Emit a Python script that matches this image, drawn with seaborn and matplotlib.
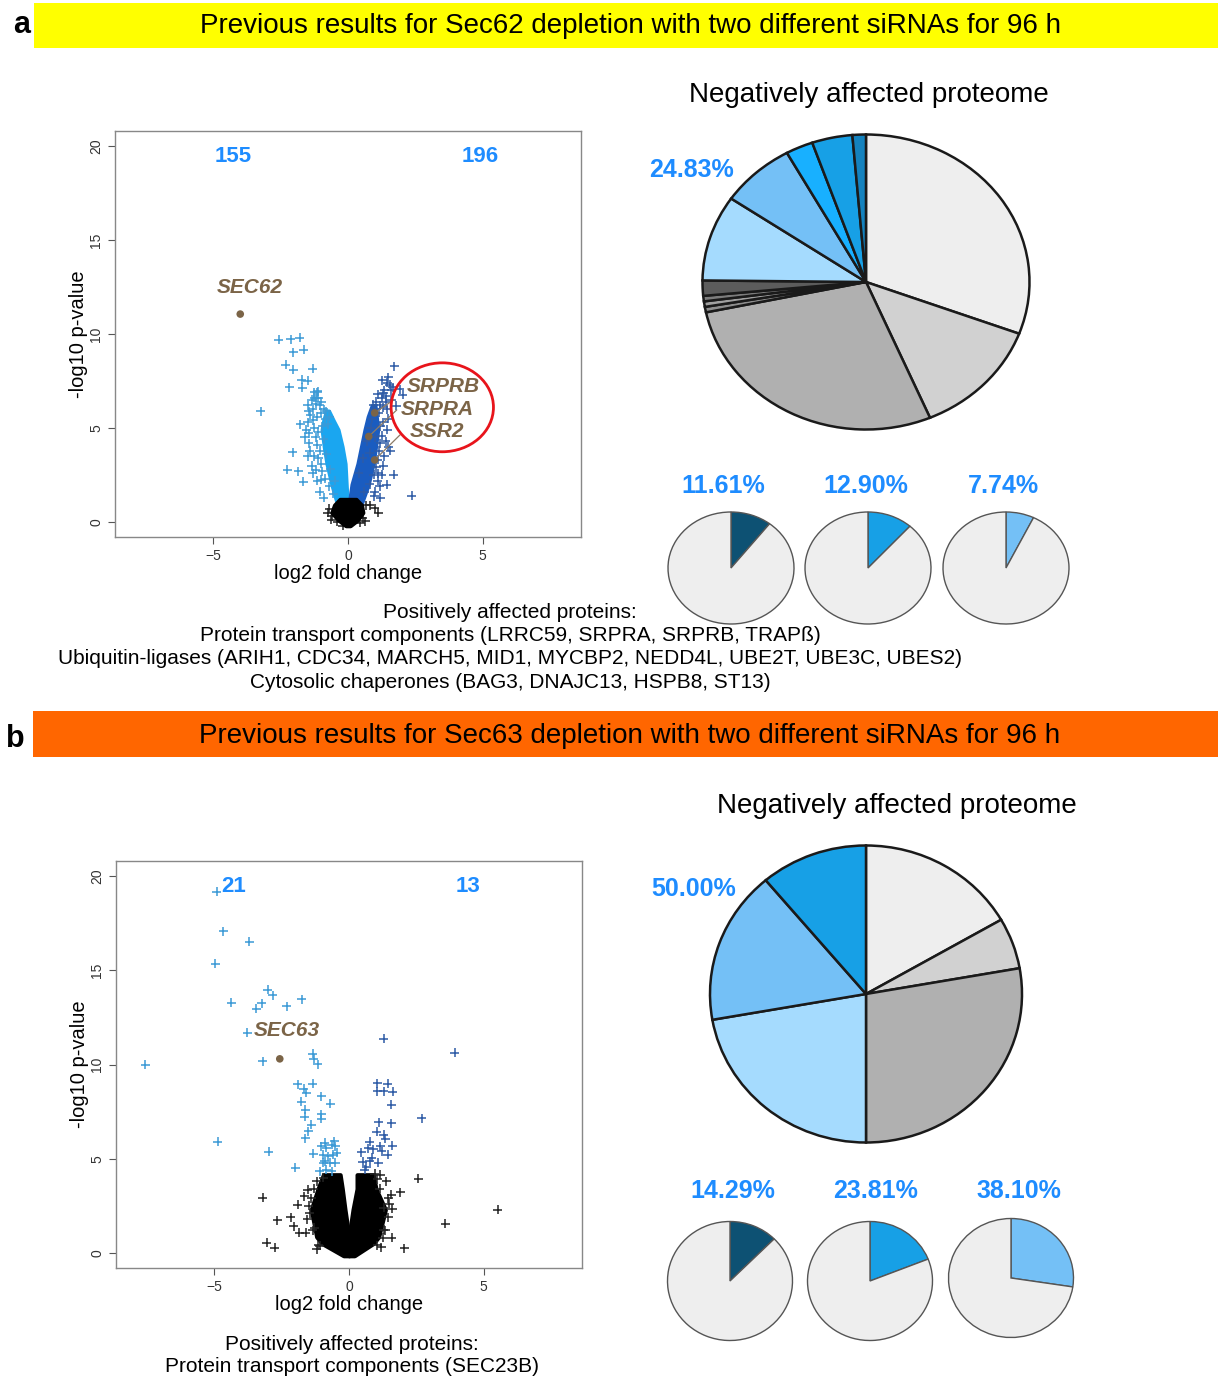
import matplotlib
matplotlib.use("Agg")
import matplotlib.pyplot as plt
from matplotlib.patches import Rectangle, Ellipse
import seaborn as sns
import pandas as pd

sns.set_style("white")
plt.rcParams['font.family'] = ['Liberation Sans', 'DejaVu Sans']
plt.rcParams['text.color'] = 'black'
plt.rcParams['axes.labelcolor'] = 'black'

W, H = 1218, 1376

# ---- panel a volcano (Sec62) ----
a_down_x = [-2.57, -2.13, -1.8, -2.03, -1.65, -2.31, -2.03, -1.31, -1.71, -1.49, -2.19, -1.7,
            -3.24, -1.77, -2.06, -2.26, -1.84, -1.67, -1.13, -1.18, -1.45, -1.26, -1.0, -1.2,
            -1.45, -1.5, -1.55, -1.45, -1.5, -1.35, -1.3, -1.15, -1.05, -0.9, -1.25, -1.15, -1.6, -1.42,
            -0.55, -0.7, -0.85, -0.95, -1.0, -1.1, -1.05, -1.15, -1.2, -1.1, -1.25, -1.3, -1.15, -1.0,
            -0.85, -1.3, -1.2, -1.05, -1.35, -1.25, -1.1, -0.95, -0.75, -1.4, -1.5, -0.9, -0.8, -0.65, -0.5,
            -0.9, -0.8, -1.0, -0.7]
a_down_y = [9.7, 9.73, 9.79, 9.02, 9.17, 8.37, 8.1, 8.16, 7.57, 7.52, 7.16, 7.13,
            5.89, 5.21, 3.72, 2.78, 2.69, 2.13, 6.95, 6.6, 4.73, 3.49, 2.25, 2.78,
            5.9, 5.3, 4.9, 4.2, 3.5, 3.0, 2.6, 2.2, 1.6, 1.3, 6.6, 6.9, 4.5, 3.8,
            1.5, 1.9, 2.3, 2.7, 3.1, 3.4, 3.8, 4.1, 4.5, 4.8, 5.0, 5.4, 5.6, 5.8,
            5.5, 6.0, 6.3, 6.2, 6.5, 6.9, 6.6, 5.1, 5.2, 5.7, 6.2, 4.4, 3.6, 2.8, 2.2,
            6.0, 5.9, 6.4, 5.6]
a_up_x = [1.72, 1.27, 1.5, 1.93, 2.04, 1.67, 1.31, 0.93, 1.8, 1.57, 1.7, 1.44, 2.37, 0.98,
          1.18, 0.8, 1.12, 1.4, 1.45, 1.5, 1.45, 1.4, 1.35, 1.3, 1.25, 1.1, 1.0, 1.55, 1.6, 1.2, 1.5,
          0.6, 0.8, 0.95, 1.05, 1.1, 1.15, 1.2, 1.25, 1.2, 1.3, 1.15, 1.3, 1.0, 0.9, 1.4, 1.25,
          1.1, 1.35, 1.45, 1.6, 0.85, 0.7, 0.55, 1.0, 0.4, 1.05, 1.2, 0.95]
a_up_y = [8.28, 7.54, 7.71, 7.07, 6.76, 7.16, 6.86, 6.24, 6.19, 3.78, 2.52, 1.99, 1.4, 1.37,
          1.9, 3.67, 2.6, 6.7, 6.0, 5.5, 4.9, 4.3, 3.5, 3.0, 2.5, 2.2, 1.6, 7.3, 6.5, 1.3, 4.0,
          1.6, 2.0, 2.5, 2.9, 3.3, 3.8, 4.2, 4.6, 5.1, 5.3, 5.8, 6.1, 6.0, 5.5, 6.4, 6.6,
          6.8, 7.0, 7.4, 7.0, 5.0, 4.3, 3.4, 4.5, 2.6, 6.4, 6.2, 5.9]
a_ns_x = [0.99, 1.12, 0.64, -0.75, -0.62, 0.41, -0.6, 0.65, -0.7, 0.55, -0.4, 0.45, -0.2, 0.8]
a_ns_y = [0.74, 0.48, 0.04, 0.48, 0.12, 0.48, 0.3, 0.9, 0.7, 0.2, 0.0, -0.05, -0.2, 0.9]

# dense point clouds: extent of the solid cloud read per -log10 p level
a_dn_arm_y = [1.0, 2.0, 3.1, 4.0, 4.9, 5.4, 5.9]
a_dn_arm_in = [-0.03, -0.07, -0.11, -0.22, -0.37, -0.55, -0.72]
a_dn_arm_out = [-0.4, -0.6, -0.78, -0.88, -0.96, -0.9, -0.8]
a_up_arm_y = [1.0, 2.0, 3.1, 4.0, 4.9, 5.6, 6.2]
a_up_arm_in = [0.05, 0.15, 0.37, 0.5, 0.63, 0.75, 0.9]
a_up_arm_out = [0.5, 0.75, 0.93, 1.02, 1.1, 1.05, 1.0]
a_core_y = [-0.2, 0.1, 0.5, 0.9, 1.2]
a_core_l = [-0.08, -0.35, -0.6, -0.5, -0.3]
a_core_r = [0.08, 0.35, 0.55, 0.5, 0.3]

a_hits = ["SEC62", "SRPRB", "SRPRA", "SSR2"]
a_hit_x = [-4.0, 0.99, 0.77, 0.99]
a_hit_y = [11.06, 5.8, 4.55, 3.3]
a_counts = ["155", "196"]

# ---- panel b volcano (Sec63) ----
b_down_x = [-4.91, -4.67, -3.71, -4.96, -4.38, -3.01, -2.84, -3.24, -3.44, -2.31, -1.76, -3.78,
            -7.56, -3.2, -1.34, -1.3, -1.16, -1.9, -1.68, -1.35, -1.59, -1.03, -1.77, -0.69,
            -1.62, -1.65, -1.03, -1.03, -1.4, -1.52, -1.63, -4.87, -2.98, -2.0, -1.32,
            -0.9, -0.84, -0.64, -0.51, -1.03, -0.96, -0.77, -0.58, -0.45, -0.9, -0.71, -0.51,
            -0.84, -0.64, -1.09, -0.96, -0.54]
b_down_y = [19.17, 17.06, 16.51, 15.35, 13.27, 13.98, 13.68, 13.24, 12.97, 13.1, 13.47, 11.68,
            10.0, 10.16, 10.58, 10.3, 10.02, 8.96, 8.72, 8.97, 8.5, 8.32, 8.02, 7.91,
            7.61, 7.22, 7.35, 7.12, 6.81, 6.46, 6.09, 5.89, 5.36, 4.53, 5.27,
            5.84, 5.58, 5.75, 5.66, 5.66, 5.22, 5.13, 5.22, 5.31, 4.87, 4.78, 4.78,
            4.42, 4.34, 4.34, 4.78, 5.93]
b_up_x = [1.29, 3.93, 1.05, 1.44, 1.05, 1.29, 1.62, 1.57, 2.7, 1.57, 1.1, 1.03, 1.29, 1.35,
          1.6, 1.16, 0.77, 0.71, 0.9, 1.44, 1.22, 0.45, 0.51, 0.77, 1.09, 0.64, 0.84, 0.58]
b_up_y = [11.36, 10.62, 9.0, 8.97, 8.58, 8.58, 8.55, 7.86, 7.15, 6.87, 6.94, 6.44, 6.28, 6.05,
          5.68, 5.66, 5.91, 5.56, 5.49, 5.22, 5.4, 5.35, 4.83, 4.87, 4.78, 4.57, 5.04, 4.42]
b_ns_x = [-3.2, -2.67, -3.05, -2.75, -2.16, -2.06, -1.85, -1.61, -1.9, -1.67, -1.54, -1.29,
          -1.08, 2.57, 1.9, 1.57, 1.39, 1.6, 1.29, 1.29, 1.58, 2.06, 3.57, 5.53, 1.16,
          -1.5, -1.55, -1.35, -1.3, -1.2, 1.5, 1.45, 1.35, 1.15, 1.05, -1.15, 1.05, 1.2, -1.2,
          -1.4, -1.45, 1.45, 1.25, -0.95, 0.95]
b_ns_y = [2.92, 1.73, 0.53, 0.28, 1.89, 1.42, 1.06, 1.06, 2.57, 3.01, 3.36, 1.33,
          0.39, 3.93, 3.22, 3.1, 3.8, 2.34, 2.39, 1.24, 0.8, 0.25, 1.56, 2.3, 4.16,
          2.5, 1.8, 1.2, 3.4, 3.8, 2.6, 1.9, 1.2, 3.4, 3.9, 0.4, 0.4, 0.3, 0.2,
          2.9, 2.1, 2.9, 0.8, 4.0, 4.2]
b_lobe_l_y = [-0.15, 0.5, 0.85, 2.3, 3.4, 4.15]
b_lobe_l_out = [-0.2, -1.0, -1.2, -1.4, -1.15, -0.95]
b_lobe_l_in = [0.0, 0.0, 0.0, -0.15, -0.25, -0.33]
b_lobe_r_y = [-0.15, 0.5, 0.85, 2.3, 3.4, 4.15]
b_lobe_r_in = [0.0, 0.0, 0.0, 0.15, 0.3, 0.3]
b_lobe_r_out = [0.2, 0.9, 1.1, 1.35, 1.0, 0.9]

b_hits = ["SEC63"]
b_hit_x = [-2.57]
b_hit_y = [10.3]
b_counts = ["21", "13"]

# ---- pies ----
pie_a = [30.7, 12.9, 28.1, 0.6, 0.6, 0.6, 1.67, 9.4, 7.4, 2.7, 4.0, 1.33]
pie_a_colors = ['#EEEEEE', '#D1D1D1', '#B0B0B0', '#8E8E8E', '#A0A0A0', '#7C7C7C', '#5C5C5C',
                '#A5DBFE', '#74C0F6', '#18B0FF', '#17A0E6', '#1482BE']
pie_b = [16.67, 5.55, 27.78, 22.22, 16.67, 11.11]
pie_b_colors = ['#EEEEEE', '#D1D1D1', '#B0B0B0', '#A5DBFE', '#74C0F6', '#17A0E6']
pie_a_label = "24.83%"
pie_b_label = "50.00%"
small_a_labels = ["11.61%", "12.90%", "7.74%"]
small_b_labels = ["14.29%", "23.81%", "38.10%"]
# slice sizes as drawn in the small pies (%)
small_a = [10.5, 11.6, 7.2]
small_b = [12.5, 19.0, 27.4]
small_colors = ['#0D5173', '#17A0E6', '#74C0F6']

BLUE_TXT = '#1E8CFF'
BROWN = '#7B6447'


def rect(left, top, right, bottom):
    return [left / W, 1 - bottom / H, (right - left) / W, (bottom - top) / H]


fig = plt.figure(figsize=(W / 100, H / 100), dpi=100)

bg = fig.add_axes([0, 0, 1, 1])
bg.set_xlim(0, W)
bg.set_ylim(H, 0)
bg.axis('off')

# header bars
bg.add_patch(Rectangle((34, 3), W - 34, 45, color='#FFFF00', lw=0))
bg.add_patch(Rectangle((33, 711), W - 33, 46, color='#FF6600', lw=0))
bg.text(22, 25, 'a', fontsize=22, fontweight='bold', ha='center', va='center')
bg.text(15, 739, 'b', fontsize=22, fontweight='bold', ha='center', va='center')
bg.text(630, 26, 'Previous results for Sec62 depletion with two different siRNAs for 96 h',
        fontsize=20, ha='center', va='center')
bg.text(630, 736, 'Previous results for Sec63 depletion with two different siRNAs for 96 h',
        fontsize=20, ha='center', va='center')
bg.text(869, 95, 'Negatively affected proteome', fontsize=20, ha='center', va='center')
bg.text(897, 806, 'Negatively affected proteome', fontsize=20, ha='center', va='center')

txt_a = ["Positively affected proteins:",
         "Protein transport components (LRRC59, SRPRA, SRPRB, TRAP\u00df)",
         "Ubiquitin-ligases (ARIH1, CDC34, MARCH5, MID1, MYCBP2, NEDD4L, UBE2T, UBE3C, UBES2)",
         "Cytosolic chaperones (BAG3, DNAJC13, HSPB8, ST13)"]
for i, t in enumerate(txt_a):
    bg.text(510, 612 + i * 23.5, t, fontsize=15, ha='center', va='center')
txt_b = ["Positively affected proteins:", "Protein transport components (SEC23B)"]
for i, t in enumerate(txt_b):
    bg.text(352, 1345 + i * 22, t, fontsize=15, ha='center', va='center')

# percent labels
bg.text(692, 170, pie_a_label, fontsize=18, fontweight='bold', color=BLUE_TXT, ha='center', va='center')
bg.text(694, 889, pie_b_label, fontsize=18, fontweight='bold', color=BLUE_TXT, ha='center', va='center')
for cx, lab in zip([723, 866, 1003], small_a_labels):
    bg.text(cx, 486, lab, fontsize=18, fontweight='bold', color=BLUE_TXT, ha='center', va='center')
for cx, lab in zip([733, 876, 1019], small_b_labels):
    bg.text(cx, 1191, lab, fontsize=18, fontweight='bold', color=BLUE_TXT, ha='center', va='center')


def style_volcano(ax):
    ax.set_xlim(-8.65, 8.65)
    ax.set_ylim(-0.8, 20.8)
    ax.set_xticks([-5, 0, 5])
    ax.set_yticks([0, 5, 10, 15, 20])
    ax.tick_params(direction='out', length=5, width=0.8, color='#555555',
                   labelsize=10, labelcolor='#333333', left=True, bottom=True)
    for lab in ax.get_yticklabels():
        lab.set_rotation(90)
        lab.set_va('center')
    for s in ax.spines.values():
        s.set_color('#888888')
        s.set_linewidth(1)
    ax.set_xlabel('log2 fold change', fontsize=14.5, labelpad=1)
    ax.set_ylabel('-log10 p-value', fontsize=14.5, labelpad=1)


def scatter_groups(ax, groups):
    frames = []
    for name, xs, ys in groups:
        frames.append(pd.DataFrame({'x': xs, 'y': ys, 'grp': name}))
    df = pd.concat(frames, ignore_index=True)
    pal = {'down': '#3C9AD6', 'up': '#2E5BA6', 'ns': '#222222'}
    sns.scatterplot(data=df, x='x', y='y', hue='grp', palette=pal, marker='+', s=42,
                    linewidth=1.1, legend=False, ax=ax, zorder=3)


# ---- volcano a ----
ax = fig.add_axes(rect(115, 131, 581, 537))
ax.fill_betweenx(a_dn_arm_y, a_dn_arm_in, a_dn_arm_out, color='#1AA6F0', lw=3, zorder=2)
ax.fill_betweenx(a_up_arm_y, a_up_arm_in, a_up_arm_out, color='#1A5CC0', lw=3, zorder=2)
scatter_groups(ax, [('down', a_down_x, a_down_y), ('up', a_up_x, a_up_y), ('ns', a_ns_x, a_ns_y)])
ax.fill_betweenx(a_core_y, a_core_l, a_core_r, color='black', lw=3, zorder=4)
sns.scatterplot(x=a_hit_x, y=a_hit_y, color=BROWN, s=30, edgecolor='none', ax=ax, zorder=6)
ax.text(-3.65, 12.5, a_hits[0], fontsize=15, fontweight='bold', style='italic', color=BROWN,
        ha='center', va='center')
for (lx, ly), (ex, ey), hx, hy, name in zip([(3.55, 7.2), (3.3, 6.0), (3.3, 4.8)],
                                            [(1.7, 6.5), (1.81, 5.96), (1.93, 4.63)],
                                            a_hit_x[1:], a_hit_y[1:], a_hits[1:]):
    ax.plot([hx, ex], [hy, ey], color='#8C7B66', lw=0.9, zorder=5)
    ax.text(lx, ly, name, fontsize=15, fontweight='bold', style='italic', color=BROWN,
            ha='center', va='center', zorder=7)
ax.add_patch(Ellipse((3.5, 6.1), 3.8, 4.73, fill=False, edgecolor='#E8141B', lw=2, zorder=7))
ax.text(-4.25, 19.45, a_counts[0], fontsize=16, fontweight='bold', color=BLUE_TXT, ha='center', va='center')
ax.text(4.9, 19.45, a_counts[1], fontsize=16, fontweight='bold', color=BLUE_TXT, ha='center', va='center')
style_volcano(ax)

# ---- volcano b ----
ax = fig.add_axes(rect(116, 861, 582, 1268))
ax.fill_betweenx(b_lobe_l_y, b_lobe_l_in, b_lobe_l_out, color='black', lw=3, zorder=2)
ax.fill_betweenx(b_lobe_r_y, b_lobe_r_in, b_lobe_r_out, color='black', lw=3, zorder=2)
scatter_groups(ax, [('down', b_down_x, b_down_y), ('up', b_up_x, b_up_y), ('ns', b_ns_x, b_ns_y)])
sns.scatterplot(x=b_hit_x, y=b_hit_y, color=BROWN, s=30, edgecolor='none', ax=ax, zorder=6)
ax.text(-2.3, 11.8, b_hits[0], fontsize=15, fontweight='bold', style='italic', color=BROWN,
        ha='center', va='center')
ax.text(-4.3, 19.47, b_counts[0], fontsize=16, fontweight='bold', color=BLUE_TXT, ha='center', va='center')
ax.text(4.43, 19.47, b_counts[1], fontsize=16, fontweight='bold', color=BLUE_TXT, ha='center', va='center')
style_volcano(ax)


def draw_pie(cx, cy, w, h, values, colors, edge, lw):
    pad = 1.03
    pax = fig.add_axes(rect(cx - w * pad / 2, cy - h * pad / 2, cx + w * pad / 2, cy + h * pad / 2))
    pax.pie(values, colors=colors, startangle=90, counterclock=False,
            wedgeprops=dict(edgecolor=edge, linewidth=lw))
    pax.set_aspect('auto')
    pax.set_xlim(-pad, pad)
    pax.set_ylim(-pad, pad)
    pax.axis('off')


draw_pie(866, 282, 327, 295, pie_a, pie_a_colors, '#1A1A1A', 1.8)
draw_pie(866, 994, 312, 297, pie_b, pie_b_colors, '#1A1A1A', 1.8)
for cx, p, c in zip([731, 868, 1006], small_a, small_colors):
    draw_pie(cx, 568, 126, 112, [p, 100 - p], [c, '#EEEEEE'], '#555555', 1.0)
for cx, cy, p, c in zip([730, 870, 1011], [1281, 1281, 1278], small_b, small_colors):
    draw_pie(cx, cy, 125, 119, [p, 100 - p], [c, '#EEEEEE'], '#555555', 1.0)

fig.savefig('out.png', dpi=100)
